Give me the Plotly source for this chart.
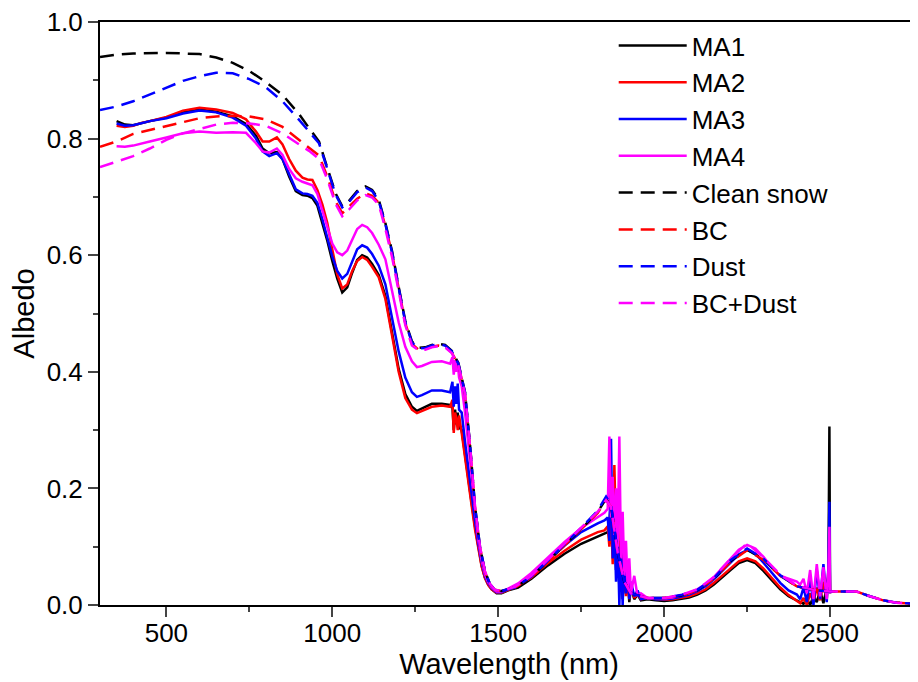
import plotly.graph_objects as go

# ---------------- measured spectra (MA1-MA4) ----------------
W_MEAS = [350, 375, 400, 425, 450, 500, 550, 600, 650, 700, 740, 770, 790, 810, 833, 850, 870, 890, 910, 925,
          940, 955, 970, 985, 1000, 1015, 1030, 1045, 1060, 1075, 1090, 1105, 1120, 1140, 1160, 1180, 1200, 1220,
          1240, 1255, 1270, 1300, 1330, 1355, 1362, 1366, 1370, 1374, 1378, 1382, 1390, 1400, 1410, 1420, 1430,
          1440, 1450, 1460, 1470, 1480, 1495, 1510, 1530, 1560, 1600, 1650, 1700, 1750, 1800, 1820, 1830, 1835,
          1840, 1845, 1850, 1855, 1860, 1865, 1870, 1875, 1880, 1885, 1890, 1895, 1900, 1910, 1920, 1930, 1950,
          1975, 2000, 2025, 2050, 2075, 2100, 2125, 2150, 2175, 2200, 2225, 2250, 2275, 2300, 2325, 2350, 2375,
          2400, 2410, 2420, 2430, 2440, 2450, 2460, 2470, 2480, 2490, 2495, 2498, 2500]

MA1 = [0.830, 0.824, 0.823, 0.827, 0.830, 0.836, 0.845, 0.850, 0.846, 0.838, 0.825, 0.805, 0.783, 0.775, 0.777,
       0.765, 0.735, 0.710, 0.703, 0.702, 0.698, 0.685, 0.657, 0.625, 0.590, 0.560, 0.536, 0.545, 0.570, 0.592,
       0.600, 0.596, 0.585, 0.566, 0.530, 0.470, 0.405, 0.362, 0.340, 0.333, 0.337, 0.345, 0.345, 0.343, 0.340,
       0.300, 0.335, 0.310, 0.330, 0.305, 0.300, 0.255, 0.215, 0.175, 0.135, 0.098, 0.068, 0.047, 0.035, 0.027,
       0.020, 0.020, 0.025, 0.030, 0.045, 0.068, 0.088, 0.105, 0.118, 0.122, 0.125, 0.140, 0.180, 0.100, 0.150,
       0.060, 0.120, 0.030, 0.080, 0.010, 0.060, 0.020, 0.045, 0.005, 0.030, 0.010, 0.018, 0.008, 0.010, 0.008,
       0.007, 0.008, 0.010, 0.013, 0.018, 0.025, 0.035, 0.048, 0.060, 0.072, 0.077, 0.072, 0.058, 0.042, 0.027,
       0.015, 0.008, 0.005, 0.002, 0.010, 0.000, 0.015, 0.005, 0.025, 0.003, 0.030, 0.050, 0.306, 0.020]

MA2 = [0.822, 0.820, 0.822, 0.827, 0.830, 0.837, 0.848, 0.853, 0.850, 0.844, 0.833, 0.812, 0.795, 0.795, 0.802,
       0.790, 0.765, 0.745, 0.733, 0.730, 0.729, 0.712, 0.687, 0.655, 0.610, 0.567, 0.543, 0.550, 0.573, 0.590,
       0.597, 0.592, 0.580, 0.562, 0.525, 0.465, 0.400, 0.355, 0.335, 0.329, 0.333, 0.340, 0.342, 0.340, 0.352,
       0.295, 0.330, 0.320, 0.300, 0.325, 0.295, 0.250, 0.210, 0.170, 0.130, 0.095, 0.066, 0.046, 0.034, 0.027,
       0.021, 0.021, 0.026, 0.033, 0.048, 0.072, 0.093, 0.112, 0.125, 0.128, 0.135, 0.100, 0.160, 0.070, 0.240,
       0.120, 0.180, 0.050, 0.110, 0.025, 0.070, 0.015, 0.050, 0.010, 0.035, 0.012, 0.020, 0.010, 0.012, 0.010,
       0.009, 0.010, 0.012, 0.015, 0.020, 0.027, 0.038, 0.050, 0.062, 0.075, 0.080, 0.075, 0.062, 0.046, 0.030,
       0.017, 0.008, 0.003, 0.012, 0.000, 0.020, 0.005, 0.030, 0.008, 0.040, 0.010, 0.060, 0.100, 0.020]

MA3 = [0.826, 0.822, 0.823, 0.827, 0.830, 0.835, 0.843, 0.848, 0.845, 0.836, 0.822, 0.800, 0.778, 0.770, 0.775,
       0.765, 0.738, 0.713, 0.706, 0.705, 0.702, 0.690, 0.662, 0.630, 0.598, 0.573, 0.560, 0.568, 0.590, 0.610,
       0.617, 0.613, 0.602, 0.582, 0.550, 0.495, 0.435, 0.390, 0.365, 0.357, 0.360, 0.368, 0.368, 0.365, 0.383,
       0.340, 0.375, 0.345, 0.380, 0.335, 0.330, 0.280, 0.232, 0.188, 0.145, 0.105, 0.073, 0.050, 0.037, 0.029,
       0.022, 0.022, 0.027, 0.035, 0.052, 0.078, 0.102, 0.125, 0.140, 0.145, 0.150, 0.110, 0.285, 0.080, 0.150,
       0.040, 0.120, 0.000, 0.100, 0.000, 0.090, 0.020, 0.070, 0.010, 0.040, 0.015, 0.025, 0.010, 0.012, 0.010,
       0.010, 0.011, 0.014, 0.018, 0.024, 0.032, 0.044, 0.058, 0.073, 0.087, 0.094, 0.088, 0.072, 0.055, 0.038,
       0.025, 0.018, 0.010, 0.030, 0.005, 0.045, 0.000, 0.060, 0.010, 0.070, 0.005, 0.065, 0.177, 0.020]

MA4 = [0.787, 0.786, 0.788, 0.792, 0.795, 0.802, 0.809, 0.812, 0.810, 0.811, 0.810, 0.792, 0.778, 0.776, 0.783,
       0.772, 0.748, 0.732, 0.726, 0.723, 0.720, 0.705, 0.676, 0.648, 0.620, 0.605, 0.600, 0.608, 0.628, 0.645,
       0.652, 0.648, 0.638, 0.618, 0.593, 0.540, 0.485, 0.443, 0.418, 0.408, 0.410, 0.417, 0.418, 0.414, 0.425,
       0.395, 0.420, 0.400, 0.415, 0.390, 0.375, 0.330, 0.275, 0.215, 0.160, 0.112, 0.077, 0.053, 0.039, 0.030,
       0.023, 0.023, 0.028, 0.037, 0.055, 0.082, 0.108, 0.132, 0.150, 0.158, 0.165, 0.289, 0.150, 0.220, 0.120,
       0.200, 0.100, 0.289, 0.080, 0.160, 0.050, 0.110, 0.030, 0.080, 0.020, 0.050, 0.015, 0.020, 0.012, 0.012,
       0.011, 0.013, 0.016, 0.020, 0.027, 0.036, 0.048, 0.063, 0.079, 0.095, 0.103, 0.097, 0.082, 0.064, 0.050,
       0.045, 0.040, 0.035, 0.045, 0.020, 0.060, 0.010, 0.070, 0.015, 0.065, 0.010, 0.060, 0.134, 0.020]

# ---------------- simulated spectra ----------------
W_SIM = [300, 350, 400, 450, 500, 550, 600, 650, 700, 750, 800, 850, 900, 930, 960, 985, 1010, 1030, 1050, 1075,
         1100, 1120, 1140, 1160, 1180, 1200, 1220, 1240, 1260, 1280, 1300, 1320, 1340, 1360, 1380, 1400, 1415,
         1430, 1445, 1460, 1475, 1490, 1510, 1550, 1600, 1650, 1700, 1750, 1800, 1825, 1840, 1860, 1880, 1900,
         1950, 2000, 2050, 2100, 2150, 2200, 2250, 2300, 2350, 2400, 2450, 2500, 2550, 2580, 2620, 2660, 2700,
         2750, 2800]

CLEAN = [0.940, 0.944, 0.946, 0.947, 0.947, 0.946, 0.945, 0.939, 0.930, 0.916, 0.897, 0.875, 0.842, 0.818, 0.795,
         0.750, 0.706, 0.684, 0.693, 0.710, 0.718, 0.712, 0.695, 0.655, 0.607, 0.546, 0.487, 0.452, 0.441, 0.442,
         0.446, 0.448, 0.446, 0.436, 0.415, 0.365, 0.275, 0.170, 0.100, 0.058, 0.036, 0.026, 0.024, 0.030, 0.048,
         0.075, 0.103, 0.130, 0.160, 0.182, 0.170, 0.090, 0.040, 0.020, 0.012, 0.012, 0.016, 0.025, 0.045, 0.075,
         0.095, 0.078, 0.050, 0.032, 0.026, 0.023, 0.023, 0.023, 0.015, 0.008, 0.004, 0.002, 0.001]

BC = [0.786, 0.795, 0.808, 0.815, 0.822, 0.829, 0.835, 0.838, 0.839, 0.838, 0.833, 0.820, 0.798, 0.785, 0.771,
      0.735, 0.692, 0.672, 0.683, 0.697, 0.706, 0.702, 0.690, 0.650, 0.603, 0.542, 0.483, 0.448, 0.438, 0.439,
      0.443, 0.445, 0.443, 0.433, 0.412, 0.362, 0.272, 0.168, 0.099, 0.057, 0.035, 0.026, 0.024, 0.030, 0.047,
      0.074, 0.102, 0.129, 0.158, 0.180, 0.168, 0.089, 0.040, 0.020, 0.012, 0.012, 0.016, 0.025, 0.045, 0.074,
      0.094, 0.077, 0.050, 0.032, 0.026, 0.023, 0.023, 0.023, 0.015, 0.008, 0.004, 0.002, 0.001]

DUST = [0.849, 0.855, 0.864, 0.876, 0.888, 0.899, 0.907, 0.913, 0.912, 0.902, 0.888, 0.864, 0.832, 0.812, 0.792,
        0.748, 0.704, 0.682, 0.691, 0.708, 0.716, 0.710, 0.693, 0.653, 0.605, 0.544, 0.485, 0.450, 0.440, 0.441,
        0.445, 0.447, 0.445, 0.435, 0.414, 0.364, 0.274, 0.169, 0.100, 0.058, 0.036, 0.026, 0.024, 0.030, 0.049,
        0.076, 0.104, 0.132, 0.162, 0.186, 0.172, 0.091, 0.041, 0.020, 0.012, 0.012, 0.017, 0.026, 0.046, 0.077,
        0.097, 0.079, 0.051, 0.032, 0.026, 0.023, 0.023, 0.023, 0.015, 0.008, 0.004, 0.002, 0.001]

BC_DUST = [0.751, 0.760, 0.770, 0.783, 0.798, 0.809, 0.817, 0.824, 0.827, 0.826, 0.822, 0.809, 0.790, 0.779, 0.765,
           0.730, 0.688, 0.667, 0.678, 0.694, 0.703, 0.699, 0.687, 0.645, 0.597, 0.537, 0.480, 0.445, 0.437, 0.438,
           0.442, 0.444, 0.442, 0.432, 0.411, 0.362, 0.273, 0.169, 0.100, 0.058, 0.036, 0.026, 0.024, 0.031, 0.050,
           0.078, 0.105, 0.133, 0.160, 0.180, 0.168, 0.090, 0.040, 0.020, 0.012, 0.012, 0.017, 0.027, 0.048, 0.079,
           0.106, 0.081, 0.052, 0.033, 0.026, 0.023, 0.023, 0.023, 0.015, 0.008, 0.004, 0.002, 0.001]

X_TICKS = [500, 1000, 1500, 2000, 2500]
Y_TICKS = [0.0, 0.2, 0.4, 0.6, 0.8, 1.0]

FONT = "Liberation Sans, Arial, sans-serif"
DASH = "14px,8px"

fig = go.Figure()
measured = [("MA1", MA1, "#000000"), ("MA2", MA2, "#ff0000"), ("MA3", MA3, "#0000ff"), ("MA4", MA4, "#ff00ff")]
for name, vals, col in measured:
    fig.add_trace(go.Scatter(x=W_MEAS, y=vals, mode="lines", name=name,
                             line=dict(color=col, width=2.5)))
simulated = [("Clean snow", CLEAN, "#000000"), ("BC", BC, "#ff0000"), ("Dust", DUST, "#0000ff"),
             ("BC+Dust", BC_DUST, "#ff00ff")]
for name, vals, col in simulated:
    fig.add_trace(go.Scatter(x=W_SIM, y=vals, mode="lines", name=name,
                             line=dict(color=col, width=2.5, dash=DASH)))

fig.update_layout(
    width=910, height=674,
    margin=dict(l=92, r=0, t=14, b=77),
    paper_bgcolor="white", plot_bgcolor="white",
    font=dict(family=FONT, color="black", size=26),
    showlegend=True,
    legend=dict(x=0.628, y=1.0, xanchor="left", yanchor="top", bgcolor="rgba(0,0,0,0)",
                font=dict(size=26, family=FONT), itemwidth=68, tracegroupgap=0),
    xaxis=dict(range=[300, 2765], tickvals=X_TICKS, ticks="outside", ticklen=10, tickwidth=1.5,
               showline=True, linecolor="black", linewidth=2, mirror=True, showgrid=False, zeroline=False,
               tickfont=dict(size=26), ticklabelstandoff=-6, ticklabeloverflow="allow",
               minor=dict(dtick=250, tick0=0, ticks="outside", ticklen=5, tickwidth=1.5, showgrid=False),
               title=dict(text="Wavelength (nm)", font=dict(size=29), standoff=0)),
    yaxis=dict(range=[0, 1.0], tickvals=Y_TICKS, tickformat=".1f", ticks="outside", ticklen=10, tickwidth=1.5,
               showline=True, linecolor="black", linewidth=2, mirror=False, showgrid=False, zeroline=False,
               tickfont=dict(size=26), ticklabeloverflow="allow",
               minor=dict(dtick=0.1, tick0=0, ticks="outside", ticklen=5, tickwidth=1.5, showgrid=False),
               title=dict(text="Albedo", font=dict(size=29), standoff=8)),
)

fig.write_html("out.html")
